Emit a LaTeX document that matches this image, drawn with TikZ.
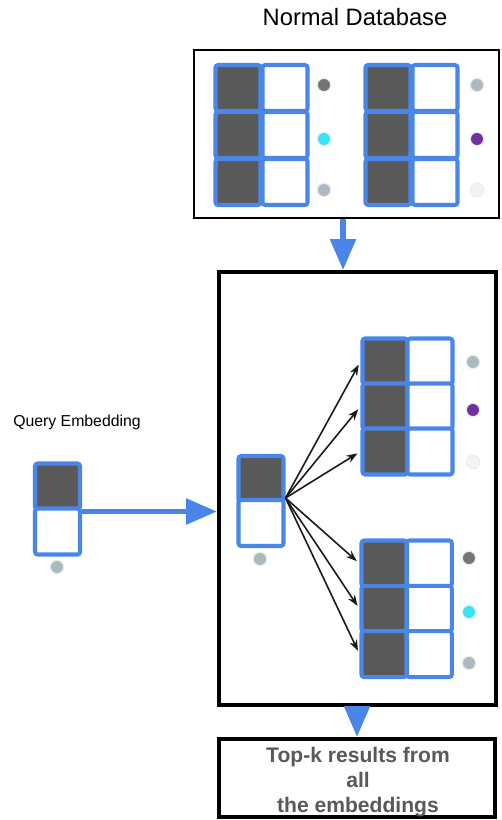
\documentclass[tikz,border=0pt]{standalone}
\usepackage{fontspec}
\setmainfont{Liberation Sans}
\usetikzlibrary{arrows.meta}
\definecolor{ink}{HTML}{595959}
\definecolor{edge}{HTML}{4A86E8}
\definecolor{dotgray}{HTML}{757575}
\definecolor{dotcyan}{HTML}{33E5F7}
\definecolor{slate}{HTML}{ADB9C1}
\definecolor{plum}{HTML}{7030A0}
\definecolor{pale}{HTML}{F3F3F3}

\begin{document}
\begin{tikzpicture}[
  x=0.02cm,y=-0.02cm,
  cell/.style={draw=edge,line width=2.3pt,fill=white,rounded corners=1.5pt,
    minimum width=0.9cm,minimum height=0.92cm,inner sep=0pt},
  dark/.style={cell,fill=ink},
  dot/.style={circle,minimum size=0.27cm,inner sep=0pt,draw=black!7,
    line width=.7pt},
  frame/.style={draw=black,line width=2.3pt,inner sep=0pt},
  flow/.style={-{Triangle[length=0.62cm,width=0.5cm]},draw=edge,
    line width=3.2pt},
  link/.style={-{Stealth[length=0.22cm,width=0.16cm]},draw=black!90,
    line width=.9pt,shorten >=2pt}
]
  \useasboundingbox (0,0) rectangle (501,820);

  \node[font=\fontsize{13.5}{16}\selectfont] (title) at (355,17)
    {Normal Database};
  \node[frame,line width=1.1pt,minimum width=6.1cm,minimum height=3.36cm]
    (db) at (346.5,134) {};
  \node[frame,minimum width=5.54cm,minimum height=8.66cm]
    (pool) at (357.5,488.5) {};
  \node[frame,minimum width=5.52cm,minimum height=1.56cm]
    (res) at (357,778) {};
  \node[text=ink,font=\bfseries\fontsize{12}{14}\selectfont,align=center]
    (restext) at (358,782) {Top-k results from\\all\\ the embeddings};

  \foreach \g/\x/\y/\s in {dba/238/88/47,dbb/388/88/47,
    ra/385/361.5/45,rb/384/563.5/45.3}{
    \foreach \r in {0,1,2}{
      \node[dark] (\g\r d) at (\x,{\y+\s*\r}) {};
      \node[cell] (\g\r w) at ({\x+\s},{\y+\s*\r}) {};
    }
  }
  \foreach \x/\y/\col [count=\n] in {324/85/dotgray,324/139/dotcyan,
    324/190/slate,477/85/slate,477/139/plum,477/190/pale,
    473/362/slate,473/410/plum,473/462/pale,
    469/558/dotgray,469/612/dotcyan,469/663/slate,
    57/567/slate,260/559/slate}{
    \node[dot,fill=\col] (dot\n) at (\x,\y) {};
  }

  \node[font=\fontsize{9}{11}\selectfont] (qlabel) at (77,422)
    {Query Embedding};
  \node[dark] (qd) at (57.5,486.5) {};
  \node[cell] (qw) at (57.5,531.5) {};
  \node[dark] (qmd) at (261,479) {};
  \node[cell] (qmw) at (261,523) {};

  \draw[flow] ([xshift=-0.07cm]db.south)
    -- ([xshift=-0.07cm]db.south |- pool.north);
  \draw[flow] (qd.south east) -- (qd.south east -| pool.west);
  \draw[flow] (pool.south -| res.north) -- (res.north);

  \coordinate (fan) at ([yshift=0.12cm]qmd.south east);
  \foreach \t in {ra0d,ra1d,ra2d,rb0d,rb1d,rb2d}
    \draw[link] (fan) -- (\t.west);
\end{tikzpicture}
\end{document}
